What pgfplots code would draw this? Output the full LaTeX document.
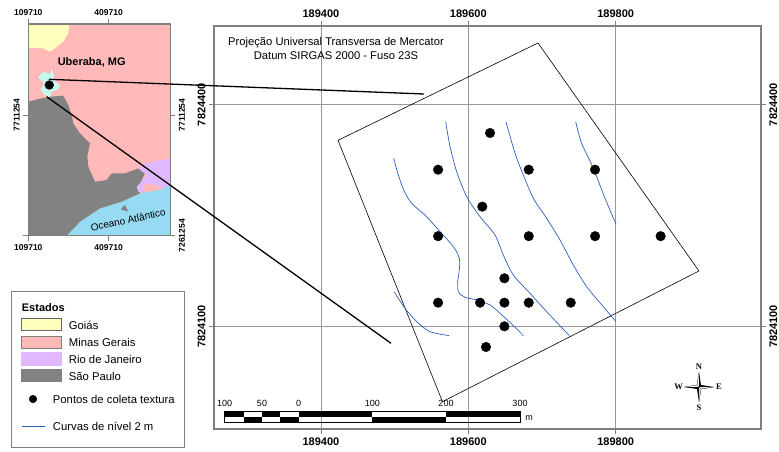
\documentclass[border=0pt]{standalone}
\usepackage{fontspec}
\setmainfont{Liberation Sans}
\newfontfamily\serifb{Liberation Serif}
\usepackage{pgfplots}
\pgfplotsset{compat=1.18}
\definecolor{mgoias}{HTML}{FFFFBE}
\definecolor{mminas}{HTML}{FFB9B9}
\definecolor{mrio}{HTML}{E0B8FF}
\definecolor{msp}{HTML}{828282}
\definecolor{msea}{HTML}{97DBF2}
\definecolor{muber}{HTML}{C4FBEE}
\definecolor{mcurve}{HTML}{2F5FBE}
\definecolor{mframe}{HTML}{7F7F7F}
\pgfplotsset{
 mainmap/.style={
  scale only axis, width=547pt, height=403pt,
  at={(214pt,22pt)}, anchor=south west,
  xmin=189254.9, xmax=189997.2, ymin=7823961, ymax=7824506.5,
  xtick={189400,189600,189800}, xticklabels={\textbf{189400},\textbf{189600},\textbf{189800}},
  ytick={7824100,7824400}, yticklabels={\textbf{7824100},\textbf{7824400}},
  scaled ticks=false,
  tick align=outside, major tick length=5pt,
  tick style={mframe,line width=0.7pt},
  axis line style={mframe,line width=1.1pt},
  ticklabel style={font=\fontsize{11}{12}\selectfont},
 },
 insetmap/.style={
  scale only axis, width=142pt, height=211.7pt,
  at={(28.3pt,215.3pt)}, anchor=south west,
  xmin=85, xmax=511, ymin=72, ymax=707, y dir=reverse,
  xtick={85,326}, xticklabels={\textbf{109710},\textbf{409710}},
  tick align=outside, major tick length=5pt,
  tick style={mframe,line width=0.7pt},
  axis line style={mframe,line width=1.1pt},
  ticklabel style={font=\fontsize{8.5}{9}\selectfont},
 }
}
\begin{document}
\begin{tikzpicture}
\path[use as bounding box] (0,0) rectangle (779pt,451pt);

% main map
\begin{axis}[mainmap, grid=major, major grid style={mframe!80,line width=0.7pt},
  xticklabel pos=lower, yticklabel pos=left, yticklabel style={rotate=90,anchor=south}]
\addplot[black,line width=0.6pt] coordinates {(189423.2,7824351.8)(189694.6,7824483.5)(189913,7824174.9)(189564.9,7823998)(189423.2,7824351.8)};
\addplot[mcurve,line width=0.7pt,smooth] coordinates {(189498.7,7824327.4)(189505.1,7824304.8)(189512.8,7824283.6)(189523.2,7824266.5)(189543.5,7824248.4)(189561.6,7824228.2)(189579.7,7824207.8)(189587.8,7824192.0)(189587.8,7824176.2)(189585.6,7824160.4)(189586.5,7824146.9)(189595.5,7824139.3)(189611.4,7824135.6)(189629.4,7824128.9)(189643.0,7824117.6)(189658.8,7824103.2)(189674.7,7824087.4)};
\addplot[mcurve,line width=0.7pt,smooth] coordinates {(189569.3,7824377.0)(189575.2,7824343.2)(189584.2,7824309.4)(189597.8,7824275.5)(189615.9,7824248.4)(189636.2,7824223.6)(189647.5,7824196.5)(189661.1,7824169.5)(189683.7,7824144.7)(189706.3,7824119.9)(189737.1,7824087.4)};
\addplot[mcurve,line width=0.7pt,smooth] coordinates {(189651.2,7824376.6)(189663.4,7824334.2)(189674.7,7824304.8)(189688.3,7824273.3)(189706.3,7824246.2)(189724.4,7824216.9)(189742.5,7824183.0)(189760.6,7824153.7)(189783.2,7824126.6)(189800.4,7824106.3)};
\addplot[mcurve,line width=0.7pt,smooth] coordinates {(189745.7,7824377.0)(189753.8,7824347.7)(189769.7,7824313.9)(189785.5,7824273.3)(189800.4,7824238.5)};
\addplot[mcurve,line width=0.7pt,smooth] coordinates {(189499.2,7824146.9)(189514.1,7824124.4)(189530.0,7824106.3)(189548.0,7824092.8)(189573.8,7824087.4)};
\addplot[only marks,mark=*,mark size=4.8pt,mark options={black,fill=black}] coordinates {
(189629.5,7824361.7)(189559,7824312)(189682,7824312)(189772,7824312)(189619,7824262)
(189559,7824222)(189682,7824222)(189772,7824222)(189861,7824222)(189649,7824165)
(189559,7824132)(189616,7824132)(189649,7824132)(189682,7824132)(189739,7824132)
(189649,7824100)(189624,7824072)};
\end{axis}
% second copy for the tick labels of the upper and right sides
\begin{axis}[mainmap, xticklabel pos=upper, yticklabel pos=right,
  yticklabel style={rotate=90,anchor=north}]
\end{axis}

% inset map
\begin{axis}[insetmap, ytick={345}, yticklabels={\textbf{7711254}}, extra y ticks={707}, extra y tick labels={},
  xticklabel pos=upper, yticklabel pos=left, yticklabel style={rotate=90,anchor=south},
  axis background/.style={fill=mminas}]
\addplot[fill=mgoias,draw=none] coordinates {(85,72)(208,72)(205,100)(190,125)(165,145)(150,155)(130,145)(85,143)(85,72)};
\addplot[fill=msea,draw=none] coordinates {(200,707)(240,665)(300,625)(365,605)(420,580)(480,570)(511,555)(511,707)(200,707)};
\addplot[fill=msp,draw=none] coordinates {(85,305)(115,297)(150,290)(190,287)(205,315)(215,345)(220,370)(240,400)(270,430)(262,470)(265,500)(285,545)(320,540)(335,520)(375,520)(415,505)(435,520)(420,550)(420,580)(365,605)(300,625)(240,665)(200,707)(85,707)(85,305)};
\addplot[fill=msp,draw=none] coordinates {(362,628)(375,615)(385,635)(362,628)};
\addplot[fill=mrio,draw=none] coordinates {(415,505)(440,490)(480,480)(511,477)(511,555)(490,565)(470,555)(440,550)(425,560)(435,578)(415,575)(410,560)(425,545)(440,525)(415,505)};
\addplot[fill=muber,draw=none] coordinates {(115,232)(130,215)(150,222)(155,207)(162,225)(160,240)(180,255)(172,270)(155,275)(150,292)(135,285)(122,270)(132,250)(115,232)};
\addplot[only marks,mark=*,mark size=4.4pt,mark options={black,fill=black}] coordinates {(148,255)};
\end{axis}
\begin{axis}[insetmap, ytick={345,707}, yticklabels={\textbf{7711254},\textbf{7261254}},
  xticklabel pos=lower, yticklabel pos=right, yticklabel style={rotate=90,anchor=north}]
\end{axis}

% page layer: pixel coordinates
\begin{axis}[scale only axis,width=779pt,height=451pt,at={(0pt,0pt)},anchor=south west,
  xmin=0,xmax=779,ymin=0,ymax=451,y dir=reverse,hide axis,clip=false]
\addplot[black,line width=1.3pt] coordinates {(49,79.3)(424,94)};
\addplot[black,line width=1.3pt] coordinates {(46.7,96.7)(391,343.3)};

\node[font=\bfseries\fontsize{11}{12}\selectfont] at (axis cs:91.7,62.7) {Uberaba, MG};
\node[font=\fontsize{10}{11}\selectfont,rotate=12] at (axis cs:128,220) {Oceano Atlântico};
\node[font=\fontsize{11.2}{12}\selectfont] at (axis cs:336,42.7) {Projeção Universal Transversa de Mercator};
\node[font=\fontsize{11.2}{12}\selectfont] at (axis cs:336,56) {Datum SIRGAS 2000 - Fuso 23S};

% legend
\draw[mframe,line width=0.8pt] (axis cs:11.7,291.7) rectangle (axis cs:184,447.7);
\node[anchor=west,font=\bfseries\fontsize{11}{12}\selectfont,inner sep=0pt] at (axis cs:21.7,308) {Estados};
\addplot[fill=mgoias,draw=black!60,line width=0.5pt] coordinates {(21.7,318.3)(61.7,318.3)(61.7,330.7)(21.7,330.7)(21.7,318.3)};
\addplot[fill=mminas,draw=black!50,line width=0.5pt] coordinates {(21.7,336)(61.7,336)(61.7,348.3)(21.7,348.3)(21.7,336)};
\addplot[fill=mrio,draw=mrio,line width=0.5pt] coordinates {(21.7,352.7)(61.7,352.7)(61.7,365)(21.7,365)(21.7,352.7)};
\addplot[fill=msp,draw=msp,line width=0.5pt] coordinates {(21.7,369.3)(61.7,369.3)(61.7,381.7)(21.7,381.7)(21.7,369.3)};
\node[anchor=west,font=\fontsize{11.3}{12}\selectfont,inner sep=0pt] at (axis cs:68.7,325) {Goiás};
\node[anchor=west,font=\fontsize{11.3}{12}\selectfont,inner sep=0pt] at (axis cs:68.7,342) {Minas Gerais};
\node[anchor=west,font=\fontsize{11.3}{12}\selectfont,inner sep=0pt] at (axis cs:68.7,359) {Rio de Janeiro};
\node[anchor=west,font=\fontsize{11.3}{12}\selectfont,inner sep=0pt] at (axis cs:68.7,376) {São Paulo};
\addplot[only marks,mark=*,mark size=3.8pt,mark options={black,fill=black}] coordinates {(33,399)};
\node[anchor=west,font=\fontsize{11.3}{12}\selectfont,inner sep=0pt] at (axis cs:52.7,399) {Pontos de coleta textura};
\addplot[mcurve,line width=0.7pt] coordinates {(21.7,426.7)(45,426.7)};
\node[anchor=west,font=\fontsize{11.3}{12}\selectfont,inner sep=0pt] at (axis cs:52.7,426.7) {Curvas de nível 2 m};

% scale bar
\fill[black] (axis cs:224.7,411.7) rectangle (axis cs:244,417);
\fill[black] (axis cs:262,411.7) rectangle (axis cs:280.4,417);
\fill[black] (axis cs:298.7,411.7) rectangle (axis cs:372.3,417);
\fill[black] (axis cs:446,411.7) rectangle (axis cs:520,417);
\fill[black] (axis cs:243.5,417) rectangle (axis cs:262,422);
\fill[black] (axis cs:280.4,417) rectangle (axis cs:298.7,422);
\fill[black] (axis cs:372.3,417) rectangle (axis cs:446,422);
\draw[black,line width=0.5pt] (axis cs:224.7,411.7) rectangle (axis cs:520,422);
\node[font=\fontsize{9}{10}\selectfont] at (axis cs:224.7,403.7) {100};
\node[font=\fontsize{9}{10}\selectfont] at (axis cs:262,403.7) {50};
\node[font=\fontsize{9}{10}\selectfont] at (axis cs:298.7,403.7) {0};
\node[font=\fontsize{9}{10}\selectfont] at (axis cs:372.3,403.7) {100};
\node[font=\fontsize{9}{10}\selectfont] at (axis cs:446,403.7) {200};
\node[font=\fontsize{9}{10}\selectfont] at (axis cs:520,403.7) {300};
\node[font=\fontsize{9}{10}\selectfont] at (axis cs:529,418) {m};

% north arrow
\fill[black] (axis cs:699,372) -- (axis cs:701,385) -- (axis cs:699,387) -- cycle;
\fill[black] (axis cs:699,402) -- (axis cs:697,389) -- (axis cs:699,387) -- cycle;
\fill[black] (axis cs:684,387) -- (axis cs:697,389) -- (axis cs:699,387) -- cycle;
\fill[black] (axis cs:714,387) -- (axis cs:701,385) -- (axis cs:699,387) -- cycle;
\draw[black,line width=0.3pt] (axis cs:699,372) -- (axis cs:697,385) -- (axis cs:699,387)
  (axis cs:699,402) -- (axis cs:701,389) -- (axis cs:699,387)
  (axis cs:684,387) -- (axis cs:697,385) -- (axis cs:699,387)
  (axis cs:714,387) -- (axis cs:701,389) -- (axis cs:699,387);
\node[font=\serifb\bfseries\fontsize{8.5}{9}\selectfont] at (axis cs:699,367) {N};
\node[font=\serifb\bfseries\fontsize{8.5}{9}\selectfont] at (axis cs:699,408) {S};
\node[font=\serifb\bfseries\fontsize{8.5}{9}\selectfont] at (axis cs:678.6,387) {W};
\node[font=\serifb\bfseries\fontsize{8.5}{9}\selectfont] at (axis cs:719,387) {E};
\end{axis}
\end{tikzpicture}
\end{document}
